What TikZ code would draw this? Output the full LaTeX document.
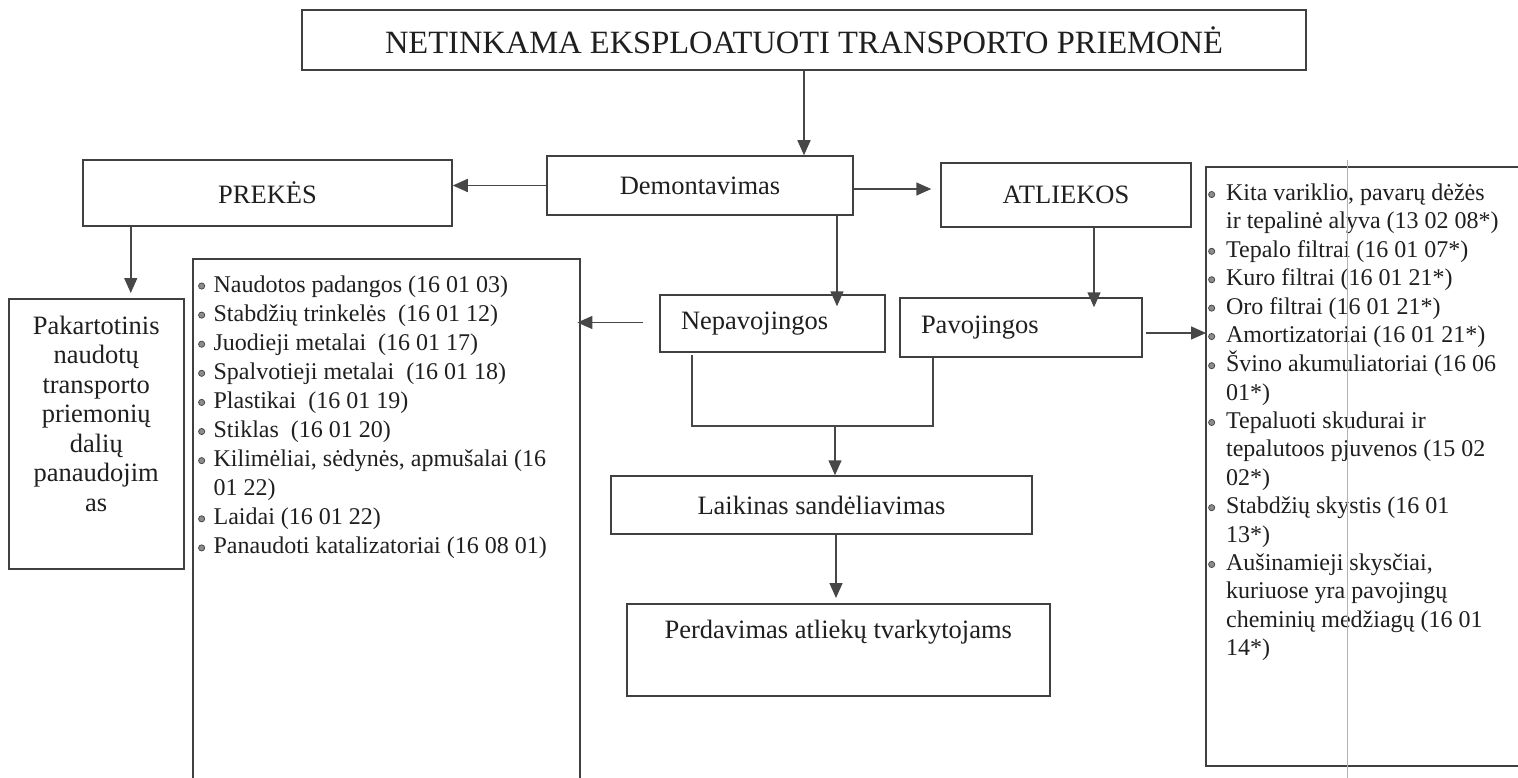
\documentclass[tikz,border=0pt]{standalone}
\usepackage{fontspec}
\setmainfont{Liberation Serif}
\usetikzlibrary{arrows.meta,calc}
\newcommand{\bul}{\raisebox{2.6pt}{\tikz[x=1pt,y=1pt]\filldraw[fill=black!45,draw=black!75,line width=0.7pt] (0,0) circle (3.1pt);}}
\begin{document}
\begin{tikzpicture}[x=1pt,y=-1pt,line width=1.5pt,
  box/.style={draw=black!75,inner sep=0pt,text=black!88},
  lbl/.style={font=\fontsize{26.5}{30}\selectfont},
  arr/.style={draw=black!72,-{Triangle[length=15pt,width=13pt]}},
  plain/.style={draw=black!72}]
\clip (0,0) rectangle (1518,778);
\fill[white] (0,0) rectangle (1518,778);

% boxes
\node[box,minimum width=1004pt,minimum height=60pt,font=\fontsize{32.5}{36}\selectfont] (title) at (804,40) {NETINKAMA EKSPLOATUOTI TRANSPORTO PRIEMONĖ};
\node[box,lbl,minimum width=306pt,minimum height=59pt] (dem) at (700,185.5) {Demontavimas};
\node[box,lbl,minimum width=369pt,minimum height=66pt] (prekes) at (267.5,193) {PREKĖS};
\node[box,lbl,minimum width=250pt,minimum height=64pt] (atl) at (1066,195) {ATLIEKOS};
\node[box,lbl,minimum height=57pt,inner xsep=21pt,text width=183pt,align=left] (nep) at (772.5,323.5) {Nepavojingos};
\node[box,lbl,minimum height=59pt,inner xsep=21pt,text width=200pt,align=left] (pav) at (1021,327.5) {Pavojingos};
\node[box,lbl,minimum width=421pt,minimum height=58pt] (laik) at (821.5,505) {Laikinas sandėliavimas};
\node[box,lbl,anchor=north west] (perd) at (626,603) {\begin{minipage}[c][92pt][t]{423pt}\centering\vspace*{16pt}Perdavimas atliekų tvarkytojams\end{minipage}};
\node[box,anchor=north west] (pak) at (8,298) {\begin{minipage}[c][270pt][t]{175pt}\centering\vspace*{17pt}\fontsize{26.5}{29.5}\selectfont
Pakartotinis\\naudotų\\transporto\\priemonių\\dalių\\panaudojim\\as\end{minipage}};

\node[box,anchor=north west] (llist) at (193,259) {\begin{minipage}[c][540pt][t]{387pt}\vspace*{12.5pt}\fontsize{24}{29.1}\selectfont\setlength{\tabcolsep}{0pt}\noindent
\begin{tabular}[t]{@{\hspace{5pt}}c@{\hspace{8.5pt}}l@{}}
\bul & Naudotos padangos (16 01 03)\\
\bul & Stabdžių trinkelės\ \ (16 01 12)\\
\bul & Juodieji metalai\ \ (16 01 17)\\
\bul & Spalvotieji metalai\ \ (16 01 18)\\
\bul & Plastikai\ \ (16 01 19)\\
\bul & Stiklas\ \ (16 01 20)\\
\bul & Kilimėliai, sėdynės, apmušalai (16\\
     & 01 22)\\
\bul & Laidai (16 01 22)\\
\bul & Panaudoti katalizatoriai (16 08 01)
\end{tabular}\end{minipage}};

\node[box,anchor=north west] (rlist) at (1206,167) {\begin{minipage}[c][599pt][t]{330pt}\vspace*{13.5pt}\fontsize{24}{28.4}\selectfont\setlength{\tabcolsep}{0pt}\noindent
\begin{tabular}[t]{@{\hspace{2pt}}c@{\hspace{11pt}}l@{}}
\bul & Kita variklio, pavarų dėžės\\
     & ir tepalinė alyva (13 02 08*)\\
\bul & Tepalo filtrai (16 01 07*)\\
\bul & Kuro filtrai (16 01 21*)\\
\bul & Oro filtrai (16 01 21*)\\
\bul & Amortizatoriai (16 01 21*)\\
\bul & Švino akumuliatoriai (16 06\\
     & 01*)\\
\bul & Tepaluoti skudurai ir\\
     & tepalutoos pjuvenos (15 02\\
     & 02*)\\
\bul & Stabdžių skystis (16 01\\
     & 13*)\\
\bul & Aušinamieji skysčiai,\\
     & kuriuose yra pavojingų\\
     & cheminių medžiagų (16 01\\
     & 14*)
\end{tabular}\end{minipage}};

% connectors
\draw[arr] (title.south) -- (title.south |- dem.north);
\draw[arr] (dem.west) -- (dem.west -| prekes.east);
\draw[arr] ($(dem.east)+(0,3.5)$) -- ($(dem.east -| atl.west)+(-9,3.5)$);
\draw[arr] ($(prekes.south -| pak.north)+(34.5,0)$) -- ($(pak.north)+(34.5,-5)$);
\draw[arr] ($(dem.south)+(137,0)$) -- ($(nep.north -| dem.south)+(137,12)$);
\draw[arr] ($(atl.south)+(28,0)$) -- ($(pav.north -| atl.south)+(28,10)$);
\draw[arr] ($(nep.west)+(-16,-1)$) -- ($(nep.west -| llist.east)+(-3,-1)$);
\draw[arr] ($(pav.east)+(3,5.5)$) -- ($(pav.east -| rlist.west)+(0,5.5)$);
\coordinate (m) at (835,426);
\draw[plain] ($(nep.south)+(-80.5,2)$) |- (m) -| ($(pav.south)+(-88,0)$);
\draw[arr] (m) -- (m |- laik.north);
\draw[arr] ($(laik.south)+(14.5,0)$) -- ($(perd.north -| laik.south)+(14.5,-5)$);

% scan line
\draw[black!30,line width=0.6pt] (1347,160) -- (1347,778);
\end{tikzpicture}
\end{document}
